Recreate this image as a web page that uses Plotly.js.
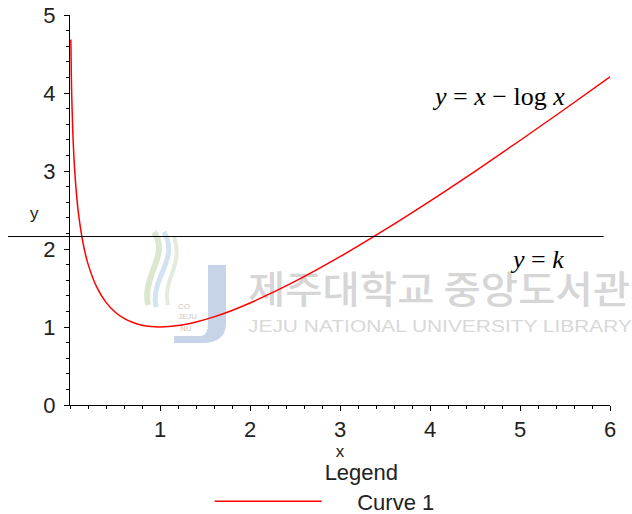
<!DOCTYPE html>
<html>
<head>
<meta charset="utf-8">
<script src="https://cdn.plot.ly/plotly-3.0.1.min.js"></script>
<style>html,body{margin:0;padding:0;background:#fff;}#chart{width:632px;height:514px;}</style>
</head>
<body>
<div id="chart"></div>
<script>
// Curve y = x - log x
const curveX = [0.0093, 0.015, 0.02, 0.03, 0.05, 0.075, 0.1, 0.15, 0.2, 0.3, 0.4, 0.5, 0.6, 0.7, 0.8, 0.9, 1.0, 1.2, 1.4, 1.6, 1.8, 2.0, 2.5, 3.0, 3.5, 4.0, 4.5, 5.0, 5.5, 6.0];
const curveY = [4.687, 4.215, 3.932, 3.537, 3.046, 2.665, 2.403, 2.047, 1.809, 1.504, 1.316, 1.193, 1.111, 1.057, 1.023, 1.005, 1.000, 1.018, 1.064, 1.130, 1.212, 1.307, 1.584, 1.901, 2.247, 2.614, 2.996, 3.391, 3.795, 4.208];
// Horizontal line y = k
const kLineX = [-0.689, 5.93];
const kLineY = [2.16, 2.16];
const xTickVals = [1, 2, 3, 4, 5, 6];
const yTickVals = [0, 1, 2, 3, 4, 5];
const seriesName = 'Curve 1';
const legendTitle = 'Legend';

const watermarkSvg =
 '<svg xmlns="http://www.w3.org/2000/svg" width="492" height="120" viewBox="0 0 492 120">' +
 '<path d="M14,7 C30,30 2,50 8,80" fill="none" stroke="#dbe8cf" stroke-width="6"/>' +
 '<path d="M24,7 C40,35 10,52 16,82" fill="none" stroke="#d3e4f0" stroke-width="5"/>' +
 '<path d="M34,12 C44,40 22,55 28,80" fill="none" stroke="#e4eadc" stroke-width="4"/>' +
 '<text x="38" y="84" font-family="Liberation Sans" font-size="8" fill="#c8c8c8">CO</text>' +
 '<text x="38" y="94" font-family="Liberation Sans" font-size="8" fill="#c8c8c8">JEJU</text>' +
 '<text x="40" y="106" font-family="Liberation Sans" font-size="8" fill="#c8c8c8">NU</text>' +
 '<path d="M68,40 H86 V98 Q86,118 62,118 L34,118 L34,111 L60,111 Q68,111 68,98 Z" fill="#c6d3e8"/>' +
 '<text x="108" y="78" font-family="Noto Sans CJK KR" font-weight="500" font-size="38" fill="#d6d6d6" textLength="382" lengthAdjust="spacingAndGlyphs">제주대학교 중앙도서관</text>' +
 '<text x="108" y="107" font-family="Liberation Sans" font-size="16" fill="#d8d8d8" textLength="384" lengthAdjust="spacingAndGlyphs">JEJU NATIONAL UNIVERSITY  LIBRARY</text>' +
 '</svg>';
const watermarkUri = 'data:image/svg+xml;charset=utf-8,' + encodeURIComponent(watermarkSvg);

const font = 'Liberation Sans, Arial, sans-serif';

const traces = [
  {
    x: curveX, y: curveY, type: 'scatter', mode: 'lines',
    name: '     ' + seriesName, xaxis: 'x', yaxis: 'y',
    line: {color: '#ff0000', width: 1.5, shape: 'spline'},
    showlegend: true
  },
  {
    x: kLineX, y: kLineY, type: 'scatter', mode: 'lines',
    xaxis: 'x2', yaxis: 'y',
    line: {color: '#000000', width: 1},
    showlegend: false, hoverinfo: 'skip'
  }
];

const layout = {
  width: 632, height: 514,
  margin: {l: 8, r: 22, t: 15, b: 109, autoexpand: false},
  paper_bgcolor: '#ffffff', plot_bgcolor: 'rgba(0,0,0,0)',
  font: {family: font, size: 22, color: '#000'},
  showlegend: true,
  xaxis: {
    domain: [62/602, 1], range: [0, 6], anchor: 'y',
    showline: true, linecolor: '#000', linewidth: 1,
    showgrid: false, zeroline: false,
    tickmode: 'array', tickvals: xTickVals,
    ticks: 'outside', ticklen: 5, tickwidth: 1, tickcolor: '#000',
    minor: {dtick: 0.2, ticks: 'outside', ticklen: 3, tickwidth: 1, tickcolor: '#000', showgrid: false},
    tickfont: {family: font, size: 22, color: '#222'},
    title: {text: 'x', font: {family: font, size: 17, color: '#222'}, standoff: 1}
  },
  xaxis2: {
    domain: [0, 1], range: [-0.689, 6], anchor: 'y',
    visible: false, showgrid: false, zeroline: false
  },
  yaxis: {
    range: [0, 5], anchor: 'x',
    showline: true, linecolor: '#000', linewidth: 1,
    showgrid: false, zeroline: false,
    tickmode: 'array', tickvals: yTickVals,
    ticks: 'outside', ticklen: 5, tickwidth: 1, tickcolor: '#000',
    minor: {dtick: 0.2, ticks: 'outside', ticklen: 3, tickwidth: 1, tickcolor: '#000', showgrid: false},
    tickfont: {family: font, size: 22, color: '#222'},
    ticklabelstandoff: 4
  },
  legend: {
    x: 0.335, xanchor: 'left', y: -0.12, yanchor: 'top',
    orientation: 'v', itemwidth: 107,
    bgcolor: 'rgba(0,0,0,0)', borderwidth: 0,
    font: {family: font, size: 22, color: '#222'},
    title: {text: '            ' + legendTitle, side: 'top center', font: {family: font, size: 22, color: '#222'}}
  },
  images: [{
    source: watermarkUri, xref: 'paper', yref: 'paper',
    x: 132/602, y: 180/390, sizex: 492/602, sizey: 120/390,
    xanchor: 'left', yanchor: 'top', sizing: 'stretch', layer: 'below', opacity: 1
  }],
  annotations: [
    {text: 'y', xref: 'paper', yref: 'y', x: 20/602, y: 2.45, showarrow: false,
     font: {family: font, size: 17, color: '#222'}},
    {text: '<i>y</i> = <i>x</i> − log <i>x</i>', xref: 'x', yref: 'y', x: 4.756, y: 3.95, showarrow: false,
     font: {family: 'Liberation Serif, Times New Roman, serif', size: 26, color: '#000'}},
    {text: '<i>y</i> = <i>k</i>', xref: 'x', yref: 'y', x: 5.19, y: 1.86, showarrow: false,
     font: {family: 'Liberation Serif, Times New Roman, serif', size: 26, color: '#000'}}
  ]
};

Plotly.newPlot('chart', traces, layout, {displayModeBar: false, staticPlot: true});
</script>
</body>
</html>
